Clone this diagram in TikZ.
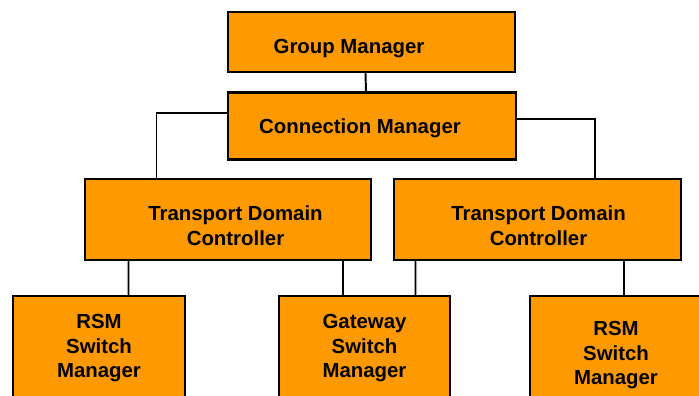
\documentclass[tikz,border=0pt]{standalone}
\usepackage{fontspec}
\setmainfont{Liberation Sans}
\usetikzlibrary{calc}
\definecolor{boxorange}{RGB}{255,153,0}
\tikzset{
  tag/.style={font=\bfseries\fontsize{11.6}{14}\selectfont, align=center},
  box/.style={draw, line width=1.3pt, fill=boxorange, tag, inner sep=0pt},
  link/.style={line width=1.1pt}
}

\begin{document}
\begin{tikzpicture}
        \useasboundingbox (0,0) rectangle (13.98,7.9);
        \clip (0,0) rectangle (13.98,7.9);
        \node[box, minimum width=5.74cm, minimum height=1.2cm,
          label={[tag, xshift=-0.45cm, yshift=-0.14cm]center:Group Manager}] (gm) at (7.43,7.06) {};
        \node[box, minimum width=5.76cm, minimum height=1.34cm,
          label={[tag, xshift=-0.24cm, yshift=-0.04cm]center:Connection Manager}] (cm) at (7.44,5.38) {};
        \node[box, minimum width=5.72cm, minimum height=1.62cm,
          label={[tag, xshift=0.15cm, yshift=-0.13cm]center:Transport Domain\\Controller}] (tdc1) at (4.56,3.51) {};
        \node[box, minimum width=5.74cm, minimum height=1.62cm,
          label={[tag, xshift=0.02cm, yshift=-0.13cm]center:Transport Domain\\Controller}] (tdc2) at (10.75,3.51) {};
        \node[box, anchor=north, minimum width=3.43cm, minimum height=2.09cm] (rsm1) at (1.98,2.0) {RSM\\Switch\\Manager};
        \node[box, anchor=north, minimum width=3.43cm, minimum height=2.09cm] (gw) at (7.29,2.0) {Gateway\\Switch\\Manager};
        \node[box, anchor=north, minimum width=3.43cm, minimum height=2.37cm] (rsm2) at (12.32,2.0) {RSM\\Switch\\Manager};
        \draw[link] ([xshift=-0.12cm]gm.south) -- ([xshift=-0.12cm]cm.north);
        \draw[link] ([yshift=0.26cm]cm.west) -| ([xshift=-1.43cm]tdc1.north);
        \draw[link] ([yshift=0.14cm]cm.east) -| ([xshift=1.15cm]tdc2.north);
        \draw[link] ([xshift=-1.99cm]tdc1.south) -- ([xshift=0.59cm]rsm1.north);
        \draw[link] ([xshift=2.30cm]tdc1.south) -- ([xshift=-0.43cm]gw.north);
        \draw[link] ([xshift=-2.44cm]tdc2.south) -- ([xshift=1.02cm]gw.north);
        \draw[link] ([xshift=1.73cm]tdc2.south) -- ([xshift=0.16cm]rsm2.north);
    \end{tikzpicture}
\end{document}
